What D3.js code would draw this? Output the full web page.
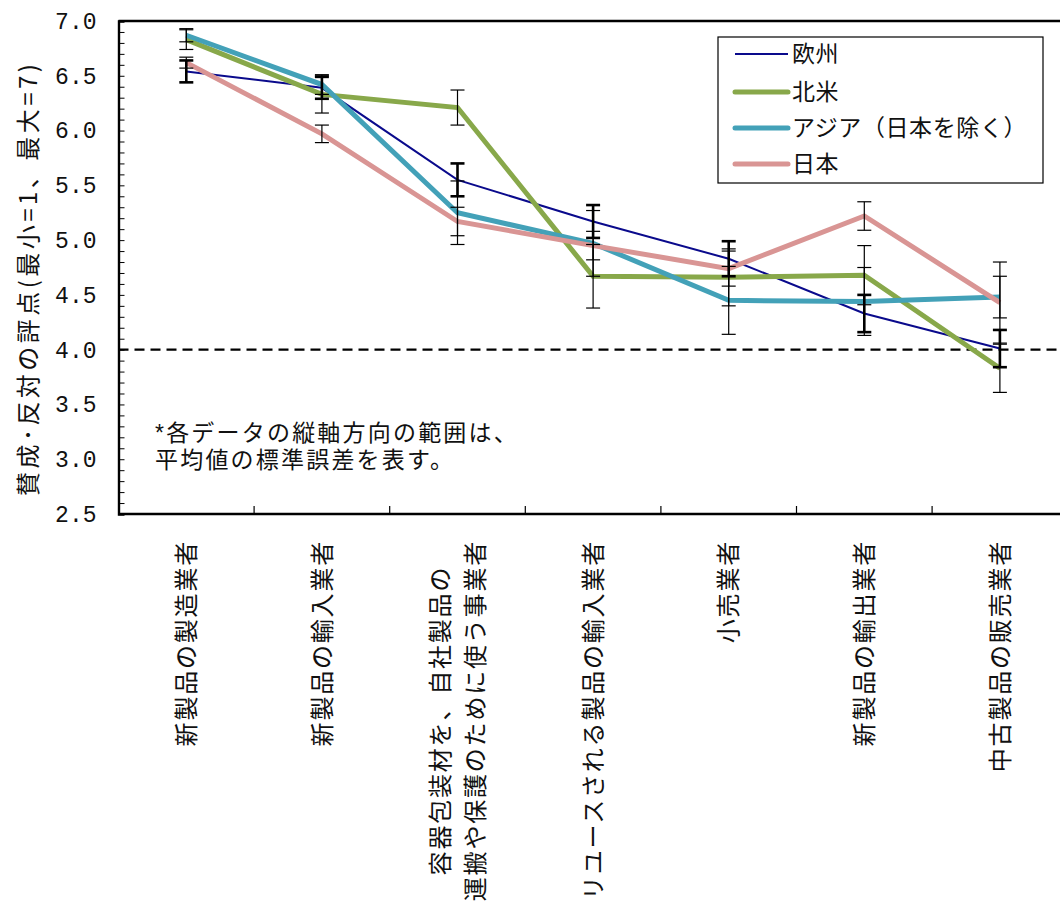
<!DOCTYPE html>
<html>
<head>
<meta charset="utf-8">
<script src="https://cdn.jsdelivr.net/npm/d3@7"></script>
<style>
  html, body { margin: 0; padding: 0; background: #fff; }
  svg { display: block; }
  text { font-family: "Noto Sans CJK JP", sans-serif; fill: #111; }
</style>
</head>
<body>
<svg id="chart" width="1060" height="911"></svg>
<script>
// Categories (respondent types)
const categories = [
  ["新製品の製造業者"],
  ["新製品の輸入業者"],
  ["容器包装材を、自社製品の", "運搬や保護のために使う事業者"],
  ["リユースされる製品の輸入業者"],
  ["小売業者"],
  ["新製品の輸出業者"],
  ["中古製品の販売業者"]
];
const catKeys = categories.map(c => c.join(""));

// Mean scores per region
const seriesNames = ["欧州", "北米", "アジア（日本を除く）", "日本"];
const europe   = [6.54, 6.39, 5.55, 5.17, 4.83, 4.33, 4.01];
const america  = [6.83, 6.33, 6.21, 4.67, 4.66, 4.68, 3.83];
const asia     = [6.87, 6.42, 5.25, 4.97, 4.45, 4.44, 4.48];
const japan    = [6.62, 5.97, 5.17, 4.95, 4.74, 5.22, 4.43];

// Standard errors of the means
const europeSE  = [0.10, 0.10, 0.15, 0.15, 0.16, 0.17, 0.17];
const americaSE = [0.09, 0.17, 0.16, 0.29, 0.26, 0.27, 0.22];
const asiaSE    = [0.06, 0.09, 0.29, 0.30, 0.31, 0.31, 0.19];
const japanSE   = [0.05, 0.08, 0.13, 0.13, 0.16, 0.13, 0.37];

const yTicks = [2.5, 3.0, 3.5, 4.0, 4.5, 5.0, 5.5, 6.0, 6.5, 7.0];
const neutral = 4.0;

const yTitle = "賛成･反対の評点(最小=1、最大=7)";
const note = ["*各データの縦軸方向の範囲は、", "平均値の標準誤差を表す。"];

const series = [
  { name: seriesNames[0], values: europe,  se: europeSE,  color: "#0a0a8c", width: 2,   barWidth: 2.6 },
  { name: seriesNames[1], values: america, se: americaSE, color: "#88a84a", width: 5,   barWidth: 1.2 },
  { name: seriesNames[2], values: asia,    se: asiaSE,    color: "#43a1b8", width: 5,   barWidth: 1.2 },
  { name: seriesNames[3], values: japan,   se: japanSE,   color: "#d99594", width: 5,   barWidth: 1.2 }
];

const svg = d3.select("#chart");
const plotLeft = 118.5, plotRight = 1067.7, plotTop = 21, plotBottom = 514;

const x = d3.scaleBand().domain(catKeys).range([plotLeft, plotRight]).padding(0);
const y = d3.scaleLinear().domain([2.5, 7.0]).range([plotBottom, plotTop]);
const cx = k => x(k) + x.bandwidth() / 2;

// Neutral reference line
svg.append("line")
  .attr("x1", plotLeft).attr("x2", 1060)
  .attr("y1", y(neutral)).attr("y2", y(neutral))
  .attr("stroke", "#000").attr("stroke-width", 2.4)
  .attr("stroke-dasharray", "10,6");

// Series lines
const line = d3.line().x((d, i) => cx(catKeys[i])).y(d => y(d));
series.forEach(s => {
  svg.append("path")
    .datum(s.values)
    .attr("d", line)
    .attr("fill", "none")
    .attr("stroke", s.color)
    .attr("stroke-width", s.width)
    .attr("stroke-linejoin", "miter");
});

// Error bars (mean ± SE)
const capHalf = 7;
series.forEach(s => {
  const g = svg.append("g");
  s.values.forEach((v, i) => {
    const px = cx(catKeys[i]);
    const hi = y(v + s.se[i]), lo = y(v - s.se[i]);
    g.append("line").attr("x1", px).attr("x2", px).attr("y1", hi).attr("y2", lo)
      .attr("stroke", "#000").attr("stroke-width", s.barWidth);
    [hi, lo].forEach(yy => g.append("line")
      .attr("x1", px - capHalf).attr("x2", px + capHalf)
      .attr("y1", yy).attr("y2", yy)
      .attr("stroke", "#000").attr("stroke-width", s.barWidth));
  });
});

// Y axis with inward minor ticks every 0.1
const minor = d3.range(25, 71).map(v => v / 10);
const yAxis = d3.axisLeft(y)
  .tickValues(minor)
  .tickSize(-6)
  .tickPadding(22)
  .tickFormat(v => yTicks.some(t => Math.abs(t - v) < 1e-9) ? d3.format(".1f")(v) : "");
const yg = svg.append("g").attr("transform", `translate(${plotLeft},0)`).call(yAxis);
yg.select(".domain").attr("stroke", "#000").attr("stroke-width", 2.4);
yg.selectAll(".tick line").attr("stroke", "#000").attr("stroke-width", 1);
yg.selectAll(".tick text")
  .style("font-family", "'Liberation Mono', 'DejaVu Sans Mono', monospace")
  .style("font-size", "23px").attr("fill", "#333");

// Top frame line
svg.append("line").attr("x1", plotLeft).attr("x2", 1060).attr("y1", plotTop).attr("y2", plotTop)
  .attr("stroke", "#000").attr("stroke-width", 2.4);

// X axis: boundary ticks between categories pointing inward
const xg = svg.append("g");
xg.append("line").attr("x1", plotLeft).attr("x2", 1060).attr("y1", plotBottom).attr("y2", plotBottom)
  .attr("stroke", "#000").attr("stroke-width", 2.4);
catKeys.slice(0, -1).forEach(k => {
  const bx = x(k) + x.bandwidth();
  xg.append("line").attr("x1", bx).attr("x2", bx).attr("y1", plotBottom).attr("y2", plotBottom - 8)
    .attr("stroke", "#000").attr("stroke-width", 1.2);
});

// Category labels, rotated, reading upward from the axis
const labelTop = 540;
const fs = 24, lineGap = 35, charGap = 1.8;
categories.forEach((lines, i) => {
  const px = cx(catKeys[i]);
  const n = lines.length;
  const g = svg.append("g");
  const texts = lines.map((t, j) => {
    const off = (j - (n - 1) / 2) * lineGap;
    return g.append("text")
      .attr("transform", `translate(${px + off + fs * 0.36},${labelTop}) rotate(-90)`)
      .attr("text-anchor", "end")
      .style("font-size", fs + "px")
      .style("letter-spacing", charGap + "px")
      .text(t);
  });
  if (n > 1) {
    // centre shorter lines on the longest one
    const lens = texts.map(t => t.node().getComputedTextLength());
    const maxLen = Math.max(...lens);
    texts.forEach((t, j) => {
      const off = (j - (n - 1) / 2) * lineGap;
      const shift = (maxLen - lens[j]) / 2;
      t.attr("transform", `translate(${px + off + fs * 0.36},${labelTop + shift}) rotate(-90)`);
    });
  }
});

// Y axis title
svg.append("text")
  .attr("transform", `translate(37,280) rotate(-90)`)
  .attr("text-anchor", "middle")
  .attr("textLength", 432)
  .attr("lengthAdjust", "spacing")
  .style("font-size", "24px")
  .text(yTitle);

// Note text: a Latin primary font keeps the line box compact; kana/kanji fall back to Noto CJK
svg.append("g").selectAll("text").data(note).join("text")
  .attr("x", 155)
  .attr("y", (d, i) => 441 + i * 27)
  .style("font-family", "'Liberation Sans', 'Noto Sans CJK JP', sans-serif")
  .style("font-size", "23px")
  .style("letter-spacing", "2.2px")
  .text(d => d);

// Legend
const lg = svg.append("g");
lg.append("rect").attr("x", 718).attr("y", 37).attr("width", 325).attr("height", 146)
  .attr("fill", "#fff").attr("stroke", "#000").attr("stroke-width", 1.2);
const rowsY = [54, 92, 128, 164];
series.forEach((s, i) => {
  lg.append("line").attr("x1", 735).attr("x2", 788).attr("y1", rowsY[i]).attr("y2", rowsY[i])
    .attr("stroke", s.color).attr("stroke-width", s.width === 2 ? 2 : 5)
    .attr("stroke-linecap", s.width === 2 ? "butt" : "round");
  lg.append("text").attr("x", 792).attr("y", rowsY[i] + 8)
    .style("font-size", "23px")
    .style("letter-spacing", "0.6px")
    .text(s.name);
});
</script>
</body>
</html>
